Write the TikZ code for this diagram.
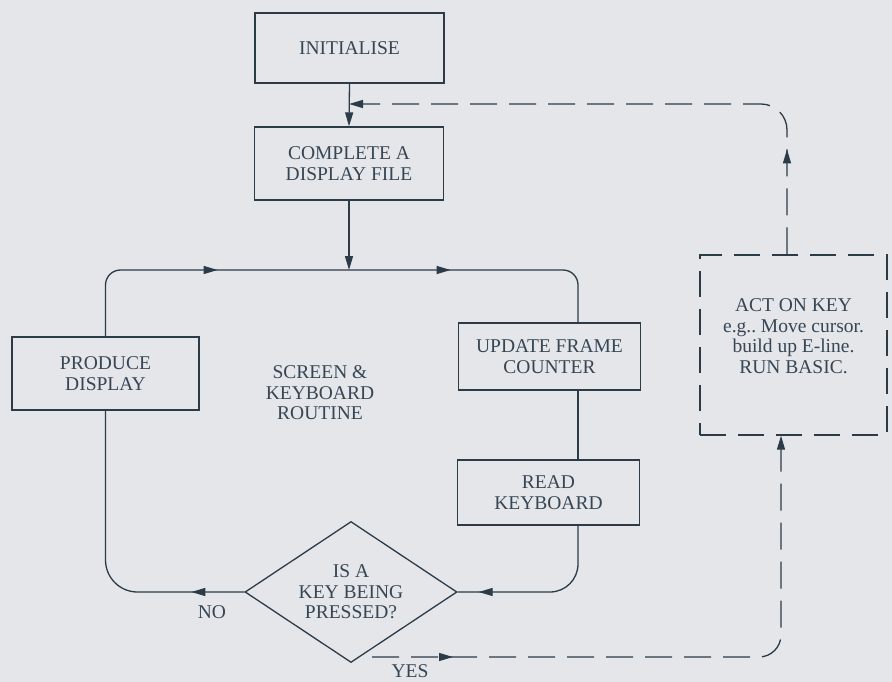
\documentclass[tikz,border=0pt]{standalone}
\usepackage{fontspec}
\setmainfont{Liberation Serif}
\usetikzlibrary{arrows.meta,shapes.geometric,decorations.markings,calc}
\definecolor{bg}{HTML}{E4E6EA}
\definecolor{ink}{HTML}{2C3B48}
\definecolor{txt}{HTML}{374654}
\frenchspacing
\begin{document}
\begin{tikzpicture}[x=1pt,y=-1pt,
  lbl/.style={text=txt, align=center, inner sep=0pt, font=\fontsize{19.5}{20.5}\selectfont},
  box/.style={lbl, draw=ink, line width=1.3pt, rectangle},
  line/.style={draw=ink, line width=1.3pt},
  dashline/.style={line, dash pattern=on 27pt off 12pt},
  tip/.tip={Triangle[length=14pt,width=8pt]},
  midarrow/.style={postaction={decorate,decoration={markings,mark=at position #1 with {\arrow[ink]{tip}}}}},
]
\useasboundingbox[fill=bg] (0,0) rectangle (892,682);

% nodes
\node[box, minimum width=189pt, minimum height=70pt] (init) at (349.5,48) {INITIALISE};
\node[box, minimum width=189pt, minimum height=73pt] (comp) at (349,163.5) {COMPLETE A\\DISPLAY FILE};
\node[box, minimum width=187pt, minimum height=73pt] (prod) at (105.5,373.5) {PRODUCE\\DISPLAY};
\node[box, minimum width=182pt, minimum height=67pt] (upd) at (549.5,356.5) {UPDATE FRAME\\COUNTER};
\node[box, minimum width=182pt, minimum height=65pt] (read) at (548.5,492.5) {READ\\KEYBOARD};
\node[lbl, draw=ink, line width=1.3pt, diamond, aspect=1.5, minimum width=212pt, minimum height=141pt] (dia) at (351,592) {IS A\\KEY BEING\\PRESSED?};
\node[lbl, draw=ink, line width=1.3pt, dash pattern=on 26pt off 12pt, rectangle, minimum width=187pt, minimum height=180pt] (act) at (793.5,345) {ACT ON KEY\\e.g.. Move cursor.\\build up E-line.\\RUN BASIC.\\[-3pt]};
\node[lbl] (scr) at (320,393) {SCREEN \&\\KEYBOARD\\ROUTINE};
\node[lbl] (no) at (212,612) {NO};
\node[lbl] (yes) at (410,671) {YES};

% helper coordinates
\coordinate (top) at (349,270);
\coordinate (tr) at (578,270);
\coordinate (j) at (349,104);
\coordinate (ys) at (372,657);
\coordinate (rx) at (781,0);
\coordinate (tx) at (787,0);

% solid connectors
\draw[line, -{tip}] (init.south) -- (comp.north);
\draw[line, -{tip}] (comp.south) -- (top);
\draw[line, rounded corners=15pt, midarrow=172pt, midarrow=405pt] (prod.north) |- (tr) -- (tr |- upd.north);
\draw[line] (tr |- upd.south) -- (tr |- read.north);
\draw[line, rounded corners=28pt, midarrow=-21pt] (tr |- read.south) |- (dia.east);
\draw[line, rounded corners=32pt, midarrow=53pt] (dia.west) -| (prod.south);

% dashed connectors
\draw[dashline, rounded corners=22pt, midarrow=81pt, -{tip}] (ys) -| (act.south -| rx);
\draw[dashline, rounded corners=26pt, midarrow=105pt, -{tip}] (act.north -| tx) |- (j);
\end{tikzpicture}
\end{document}
